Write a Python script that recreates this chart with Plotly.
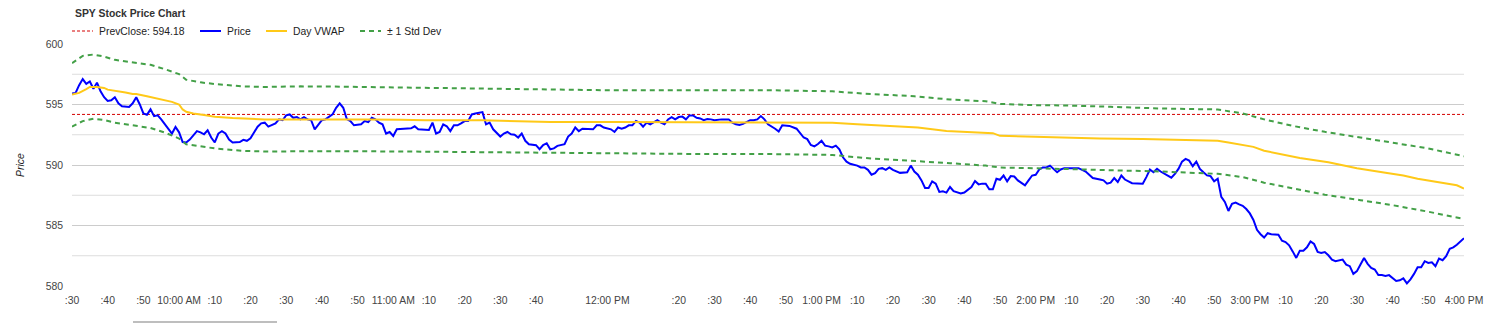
import plotly.graph_objects as go

# ---- data -------------------------------------------------------------
# minutes after the 9:30 open
price_minute = [
    0, 1, 2, 3, 4, 5, 6, 7, 8, 9, 10, 11, 12, 13, 14, 16, 17, 18, 19, 20,
    21, 22, 23, 24, 25, 26, 28, 29, 30, 31, 32, 33, 35, 36, 37, 38, 39, 40,
    41, 42, 43, 44, 45, 47, 48, 49, 50, 51, 52, 53, 54, 55, 56, 57, 58, 59,
    60, 61, 62, 63, 64, 65, 66, 67, 68, 69, 70, 71, 72, 73, 74, 75, 76, 77,
    78, 79, 81, 82, 83, 84, 85, 86, 87, 88, 89, 90, 91, 92, 93, 95, 96, 97,
    100, 101, 102, 103, 104, 105, 106, 107, 108, 109, 110, 111, 112, 113,
    115, 116, 117, 118, 120, 121, 122, 123, 124, 125, 126, 127, 128, 130,
    131, 132, 133, 134, 135, 136, 138, 139, 140, 141, 142, 143, 144, 146,
    147, 148, 149, 151, 152, 153, 154, 155, 156, 157, 158, 159, 160, 161,
    162, 163, 164, 165, 166, 167, 168, 169, 170, 171, 172, 173, 174, 175,
    176, 177, 178, 179, 180, 182, 183, 184, 185, 186, 187, 188, 190, 191,
    192, 193, 194, 195, 197, 198, 199, 201, 203, 204, 205, 206, 207, 208,
    209, 210, 211, 212, 213, 214, 215, 216, 217, 218, 220, 221, 222, 223,
    224, 225, 226, 227, 228, 229, 230, 232, 233, 234, 235, 236, 237, 238,
    239, 240, 241, 242, 243, 244, 245, 246, 247, 248, 249, 250, 252, 253,
    254, 255, 256, 257, 258, 259, 260, 261, 262, 263, 264, 265, 267, 268,
    269, 270, 271, 272, 273, 274, 275, 276, 277, 278, 279, 281, 282, 284,
    285, 286, 288, 289, 290, 291, 292, 293, 294, 295, 297, 298, 300, 301,
    302, 303, 304, 305, 306, 308, 309, 310, 311, 312, 313, 314, 315, 316,
    317, 318, 319, 320, 321, 322, 323, 324, 325, 326, 327, 328, 329, 330,
    331, 332, 333, 334, 335, 336, 338, 339, 340, 341, 342, 343, 344, 345,
    346, 347, 348, 349, 350, 351, 352, 353, 354, 356, 357, 358, 359, 360,
    361, 362, 363, 364, 365, 366, 367, 368, 369, 370, 371, 372, 373, 374,
    375, 376, 377, 378, 379, 380, 381, 382, 383, 384, 385, 386, 387, 388,
    389, 390,
]
price = [
    595.90, 595.96, 596.60, 597.10, 596.70, 596.90, 596.30, 596.80, 596.10,
    595.60, 595.30, 595.35, 595.60, 595.10, 594.86, 594.80, 595.10, 595.60,
    595.00, 594.26, 594.15, 594.60, 594.04, 594.10, 593.77, 593.36, 592.60,
    593.14, 592.70, 591.90, 591.86, 592.10, 592.80, 592.70, 592.54, 592.87,
    592.27, 591.86, 592.60, 592.80, 592.60, 592.10, 591.86, 591.90, 592.08,
    592.00, 592.20, 592.68, 593.17, 593.44, 593.50, 593.17, 593.28, 593.44,
    593.77, 593.70, 594.10, 594.18, 593.90, 593.96, 593.77, 593.96, 593.77,
    593.70, 592.95, 593.28, 593.70, 593.77, 594.00, 594.18, 594.73, 595.10,
    594.73, 593.80, 593.63, 593.28, 593.36, 593.63, 593.55, 593.90, 593.77,
    593.50, 593.36, 592.60, 592.73, 592.40, 592.95, 592.95, 593.00, 593.03,
    593.20, 592.95, 592.90, 593.50, 592.60, 592.73, 593.36, 593.20, 592.80,
    593.28, 593.28, 593.44, 593.63, 593.63, 594.18, 594.26, 594.37, 593.36,
    593.50, 592.95, 592.35, 592.60, 592.73, 592.54, 592.50, 592.27, 592.60,
    592.00, 591.72, 591.64, 591.30, 591.64, 591.80, 591.30, 591.37, 591.58,
    591.72, 592.35, 592.60, 593.10, 592.80, 593.00, 593.00, 592.95, 593.28,
    593.28, 593.10, 592.95, 592.73, 593.10, 593.00, 593.10, 593.28, 593.28,
    593.63, 593.50, 593.17, 593.50, 593.36, 593.55, 593.70, 593.50, 593.36,
    593.77, 593.96, 593.77, 593.96, 594.00, 593.77, 594.10, 594.10, 593.90,
    593.85, 593.70, 593.80, 593.77, 593.70, 593.77, 593.80, 593.77, 593.50,
    593.36, 593.30, 593.40, 593.70, 593.70, 593.77, 594.04, 593.77, 593.36,
    593.00, 592.76, 593.28, 593.23, 593.00, 592.68, 592.27, 592.14, 591.65,
    591.54, 591.73, 592.00, 591.60, 591.54, 591.45, 591.60, 591.30, 590.64,
    590.28, 590.10, 589.95, 589.80, 589.80, 589.60, 589.20, 589.33, 589.68,
    589.74, 589.60, 589.80, 589.60, 589.35, 589.40, 589.40, 589.95, 589.46,
    589.20, 588.73, 588.10, 588.10, 588.65, 588.46, 587.77, 587.83, 587.72,
    588.18, 587.83, 587.72, 587.64, 587.72, 588.18, 588.67, 588.40, 588.46,
    588.46, 588.00, 588.00, 588.86, 588.78, 589.13, 588.65, 589.08, 589.05,
    588.73, 588.32, 588.73, 589.13, 589.19, 589.63, 589.80, 589.80, 589.95,
    589.68, 589.40, 589.63, 589.74, 589.74, 589.74, 589.74, 589.46, 589.19,
    588.92, 588.80, 588.73, 588.46, 588.54, 588.92, 588.60, 589.13, 588.80,
    588.50, 588.50, 588.45, 589.00, 589.63, 589.40, 589.68, 589.46, 589.27,
    588.95, 589.27, 589.68, 590.28, 590.50, 590.36, 589.90, 590.28, 589.68,
    589.40, 589.14, 589.08, 588.65, 588.86, 587.36, 586.95, 586.20, 586.80,
    586.90, 586.74, 586.63, 586.36, 586.00, 585.46, 584.64, 584.28, 584.00,
    584.36, 584.28, 584.23, 583.74, 583.63, 583.36, 582.86, 582.32, 582.92,
    582.92, 583.20, 583.68, 583.47, 582.81, 582.73, 582.81, 582.54, 582.18,
    582.05, 582.18, 581.77, 581.64, 581.00, 581.23, 581.77, 582.32, 581.83,
    581.50, 581.36, 580.90, 580.90, 580.82, 580.90, 580.63, 580.41, 580.47,
    580.63, 580.22, 580.55, 581.00, 581.55, 581.55, 582.05, 581.91, 581.96,
    581.64, 582.26, 582.13, 582.46, 583.08, 583.19, 583.41, 583.68, 583.95,
]

vwap_minute = [
    0, 2, 4, 5, 7, 9, 10, 12, 15, 17, 18, 21, 23, 25, 28, 30, 31, 32, 34,
    37, 40, 45, 50, 54, 64, 73, 82, 92, 99, 115, 134, 152, 171, 197, 204,
    213, 220, 227, 237, 245, 251, 258, 260, 269, 279, 288, 300, 310, 321,
    324, 328, 331, 334, 339, 344, 352, 360, 368, 373, 377, 382, 388, 390,
]
vwap = [
    595.82, 595.96, 596.28, 596.45, 596.45, 596.37, 596.23, 596.15, 596.00,
    595.87, 595.87, 595.68, 595.55, 595.41, 595.22, 595.00, 594.59, 594.40,
    594.26, 594.13, 593.99, 593.88, 593.80, 593.77, 593.77, 593.80, 593.77,
    593.74, 593.69, 593.69, 593.55, 593.55, 593.55, 593.55, 593.55, 593.50,
    593.36, 593.23, 593.09, 592.82, 592.74, 592.63, 592.41, 592.33, 592.22,
    592.19, 592.14, 592.05, 592.00, 591.86, 591.67, 591.50, 591.18, 590.90,
    590.58, 590.23, 589.74, 589.35, 589.14, 588.86, 588.60, 588.32, 588.05,
]

band_minute = [
    0, 3, 6, 9, 12, 17, 22, 26, 30, 32, 36, 40, 48, 54, 64, 73, 82, 92, 99,
    124, 152, 171, 197, 213, 222, 236, 246, 256, 260, 269, 278, 291, 305,
    321, 328, 334, 342, 351, 361, 370, 380, 390,
]
band_upper = [
    598.42, 599.02, 599.13, 598.96, 598.69, 598.50, 598.28, 597.92, 597.51,
    597.05, 596.83, 596.69, 596.50, 596.45, 596.50, 596.48, 596.45, 596.39,
    596.37, 596.28, 596.17, 596.17, 596.17, 596.09, 595.90, 595.68, 595.41,
    595.27, 595.05, 594.95, 594.92, 594.81, 594.67, 594.59, 594.26, 593.77,
    593.23, 592.74, 592.27, 591.86, 591.37, 590.72,
]
band_lower = [
    593.17, 593.63, 593.83, 593.72, 593.50, 593.28, 593.06, 592.68, 592.19,
    591.72, 591.53, 591.37, 591.17, 591.12, 591.13, 591.15, 591.13, 591.12,
    591.10, 591.04, 590.93, 590.92, 590.90, 590.83, 590.58, 590.36, 590.15,
    589.95, 589.79, 589.74, 589.68, 589.55, 589.46, 589.27, 589.00, 588.54,
    588.05, 587.55, 587.09, 586.68, 586.14, 585.54,
]

prev_close = 594.18
session_minute = [0, 390]

tick_minute = [
    0, 10, 20, 30, 40, 50, 60, 70, 80, 90, 100, 110, 120, 130, 150, 170,
    180, 190, 200, 210, 220, 230, 240, 250, 260, 270, 280, 290, 300, 310,
    320, 330, 340, 350, 360, 370, 380, 390,
]
tick_text = [
    ":30", ":40", ":50", "10:00 AM", ":10", ":20", ":30", ":40", ":50",
    "11:00 AM", ":10", ":20", ":30", ":40", "12:00 PM", ":20", ":30", ":40",
    ":50", "1:00 PM", ":10", ":20", ":30", ":40", ":50", "2:00 PM", ":10",
    ":20", ":30", ":40", ":50", "3:00 PM", ":10", ":20", ":30", ":40", ":50",
    "4:00 PM",
]
minor_levels = [582.5, 587.5, 592.5, 597.5]

# ---- styling ----------------------------------------------------------
W, H = 1499, 323
ML, MR, MT, MB = 72, 35, 44, 37
PW, PH = W - ML - MR, H - MT - MB
FONT = "Arial, Liberation Sans, sans-serif"
FS = 10.4

RED = "#d40000"
BLUE = "#0000ff"
GOLD = "#ffc918"
GREEN = "#43a047"


def px_x(px):
    return (px - ML) / PW


def px_y(py):
    return (H - MB - py) / PH


fig = go.Figure()

fig.add_trace(go.Scatter(
    x=session_minute, y=[prev_close, prev_close], mode="lines",
    name=f"PrevClose: {prev_close}",
    line=dict(color=RED, width=1, dash="3px,2px"), hoverinfo="skip",
))
fig.add_trace(go.Scatter(
    x=price_minute, y=price, mode="lines", name="Price",
    line=dict(color=BLUE, width=2),
))
fig.add_trace(go.Scatter(
    x=vwap_minute, y=vwap, mode="lines", name="Day VWAP",
    line=dict(color=GOLD, width=2),
))
fig.add_trace(go.Scatter(
    x=band_minute, y=band_upper, mode="lines", name="± 1 Std Dev",
    legendgroup="std", line=dict(color=GREEN, width=2, dash="5px,4px"),
))
fig.add_trace(go.Scatter(
    x=band_minute, y=band_lower, mode="lines", name="± 1 Std Dev",
    legendgroup="std", line=dict(color=GREEN, width=2, dash="5px,4px"),
))

shapes = []
annotations = []

# lighter intermediate gridlines, below the traces
for lvl in minor_levels:
    shapes.append(dict(
        type="line", xref="paper", yref="y", x0=0, x1=1, y0=lvl, y1=lvl,
        layer="below", line=dict(color="#dddddd", width=1),
    ))

# legend row drawn as line samples + labels
legend_items = [
    (f"PrevClose: {prev_close}", RED, 1, "3px,2px", 72, 97),
    ("Price", BLUE, 2, "solid", 200, 225),
    ("Day VWAP", GOLD, 2, "solid", 266, 291),
    ("± 1 Std Dev", GREEN, 2, "5px,4px", 360, 385),
]
legend_y = px_y(31)
for label, color, width, dash, x0, xt in legend_items:
    shapes.append(dict(
        type="line", xref="paper", yref="paper",
        x0=px_x(x0), x1=px_x(x0 + 21), y0=legend_y, y1=legend_y,
        line=dict(color=color, width=width, dash=dash),
    ))
    annotations.append(dict(
        text=label, xref="paper", yref="paper", x=px_x(xt), y=legend_y,
        xanchor="left", yanchor="middle", showarrow=False,
        font=dict(family=FONT, size=FS, color="#222222"),
    ))

annotations.append(dict(
    text="<b>SPY Stock Price Chart</b>", xref="paper", yref="paper",
    x=px_x(73), y=px_y(14), xanchor="left", yanchor="middle",
    showarrow=False, font=dict(family=FONT, size=FS, color="#333333"),
))
annotations.append(dict(
    text="Price", xref="paper", yref="paper", x=px_x(20), y=0.5,
    xanchor="center", yanchor="middle", textangle=-90, showarrow=False,
    font=dict(family=FONT, size=FS, color="#222222", style="italic"),
))

# thin grey bar under the axis labels
shapes.append(dict(
    type="line", xref="paper", yref="paper",
    x0=px_x(133), x1=px_x(277), y0=px_y(322), y1=px_y(322),
    line=dict(color="#a8a8a8", width=1.5),
))

fig.update_layout(
    width=W, height=H, autosize=False,
    margin=dict(l=ML, r=MR, t=MT, b=MB, pad=0),
    paper_bgcolor="white", plot_bgcolor="white",
    showlegend=False,
    font=dict(family=FONT, size=FS, color="#444444"),
    shapes=shapes, annotations=annotations,
    xaxis=dict(
        range=[0, 390], tickmode="array", tickvals=tick_minute,
        ticktext=tick_text, tickangle=0, showgrid=False, zeroline=False,
        showline=False, ticks="", ticklabelstandoff=7,
        tickfont=dict(family=FONT, size=FS, color="#444444"),
        fixedrange=True,
    ),
    yaxis=dict(
        range=[580, 600], dtick=5, tick0=580, showgrid=True,
        gridcolor="#cccccc", gridwidth=1, zeroline=False, showline=False,
        ticks="", ticklabelstandoff=8,
        tickfont=dict(family=FONT, size=FS, color="#444444"),
        fixedrange=True,
    ),
)

fig.write_html("out.html", config=dict(displayModeBar=False))
